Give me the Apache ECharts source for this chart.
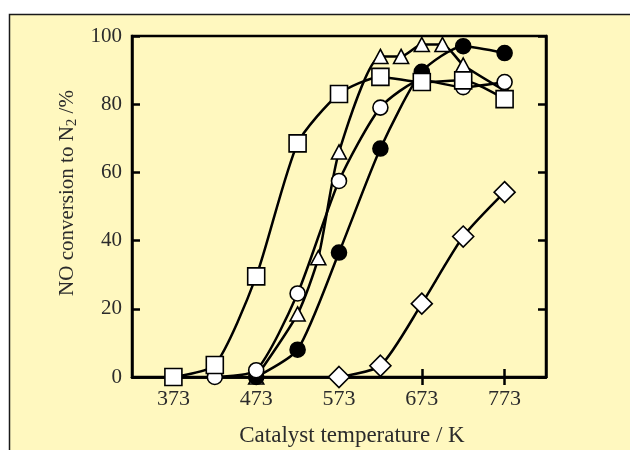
<!DOCTYPE html>
<html>
<head>
<meta charset="utf-8">
<script src="https://cdn.jsdelivr.net/npm/echarts@6/dist/echarts.min.js"></script>
<style>html,body{margin:0;padding:0;background:#fff}#c{width:630px;height:450px}</style>
</head>
<body>
<div id="c"></div>
<script>
// Data
const xTicks = [373, 473, 573, 673, 773];
const yTicks = [0, 20, 40, 60, 80, 100];
const squareX = [373, 423, 473, 523, 573, 623, 673, 723, 773];
const squareY = [0, 3.5, 29.5, 68.5, 83, 88, 86.5, 87, 81.5];
const triangleX = [473, 523, 548, 573, 623, 648, 673, 698, 723, 773];
const triangleY = [0, 18.5, 35, 66, 94, 94, 97.5, 97.5, 91.5, 84];
const openCircleX = [423, 473, 523, 573, 623, 673, 723, 773];
const openCircleY = [0, 2, 24.5, 57.5, 79, 87, 85, 86.5];
const filledCircleX = [473, 523, 573, 623, 673, 723, 773];
const filledCircleY = [0, 8, 36.5, 67, 89.5, 97, 95];
const diamondX = [573, 623, 673, 723, 773];
const diamondY = [0, 3.3, 21.5, 41.2, 54.2];

const pairs = (xs, ys) => xs.map((x, i) => [x, ys[i]]);
const FONT = 'Liberation Serif';
const TXT = '#2b2b2b';

function mkSeries(name, xs, ys, symbol, size, fill) {
  return {
    name, type: 'line', data: pairs(xs, ys), smooth: 0.22,
    symbol, symbolSize: size, showAllSymbol: true,
    lineStyle: { color: '#000', width: 2.5 },
    itemStyle: { color: fill, borderColor: '#000', borderWidth: 1.6 },
    emphasis: { disabled: true }, animation: false
  };
}

const chart = echarts.init(document.getElementById('c'));
chart.setOption({
  backgroundColor: '#fff',
  animation: false,
  graphic: [
    { type: 'rect', z: -10, shape: { x: 9.5, y: 14.5, width: 700, height: 500 },
      style: { fill: '#fff8bf', stroke: '#1a1a1a', lineWidth: 1.5 } },
    { type: 'text', x: 67, y: 193, rotation: Math.PI / 2, z: 10,
      style: { text: 'NO conversion to N{sub|2} /%', font: '21px "Liberation Serif"', fill: TXT,
        align: 'center', verticalAlign: 'middle',
        rich: { sub: { fontSize: 15, fontFamily: FONT, fill: TXT, padding: [10, 0, 0, 0] } } } },
    { type: 'text', x: 352, y: 436, z: 10,
      style: { text: 'Catalyst temperature / K', font: '23px "Liberation Serif"', fill: TXT,
        align: 'center', verticalAlign: 'middle' } }
  ],
  grid: { left: 132, top: 36, right: 84, bottom: 73, show: true, borderColor: '#000', borderWidth: 2.5, backgroundColor: 'transparent' },
  xAxis: [
    { type: 'value', min: 323, max: 823, position: 'bottom',
      axisLine: { show: true, lineStyle: { color: '#000', width: 2.5 } },
      axisTick: { show: true, inside: true, length: 8, customValues: xTicks, lineStyle: { color: '#000', width: 2.5 } },
      axisLabel: { customValues: xTicks, fontFamily: FONT, fontSize: 22, color: TXT, margin: 11 },
      splitLine: { show: false } },
    { type: 'value', min: 323, max: 823, position: 'top',
      axisLine: { show: true, lineStyle: { color: '#000', width: 2.5 } },
      axisTick: { show: true, inside: true, length: 8, customValues: xTicks, lineStyle: { color: '#000', width: 2.5 } },
      axisLabel: { show: false }, splitLine: { show: false } }
  ],
  yAxis: [
    { type: 'value', min: 0, max: 100, interval: 20, position: 'left',
      axisLine: { show: true, lineStyle: { color: '#000', width: 2.5 } },
      axisTick: { show: true, inside: true, length: 8, lineStyle: { color: '#000', width: 2.5 } },
      axisLabel: { fontFamily: FONT, fontSize: 21, color: TXT, margin: 10, customValues: yTicks },
      splitLine: { show: false } },
    { type: 'value', min: 0, max: 100, interval: 20, position: 'right',
      axisLine: { show: true, lineStyle: { color: '#000', width: 2.5 } },
      axisTick: { show: true, inside: true, length: 8, lineStyle: { color: '#000', width: 2.5 } },
      axisLabel: { show: false }, splitLine: { show: false } }
  ],
  series: [
    mkSeries('triangle', triangleX, triangleY, 'triangle', [15, 14], '#fff'),
    mkSeries('filled', filledCircleX, filledCircleY, 'circle', 15, '#000'),
    mkSeries('open', openCircleX, openCircleY, 'circle', 15, '#fff'),
    mkSeries('diamond', diamondX, diamondY, 'diamond', [21, 21], '#fff'),
    mkSeries('square', squareX, squareY, 'rect', 17, '#fff')
  ]
});
</script>
</body>
</html>
